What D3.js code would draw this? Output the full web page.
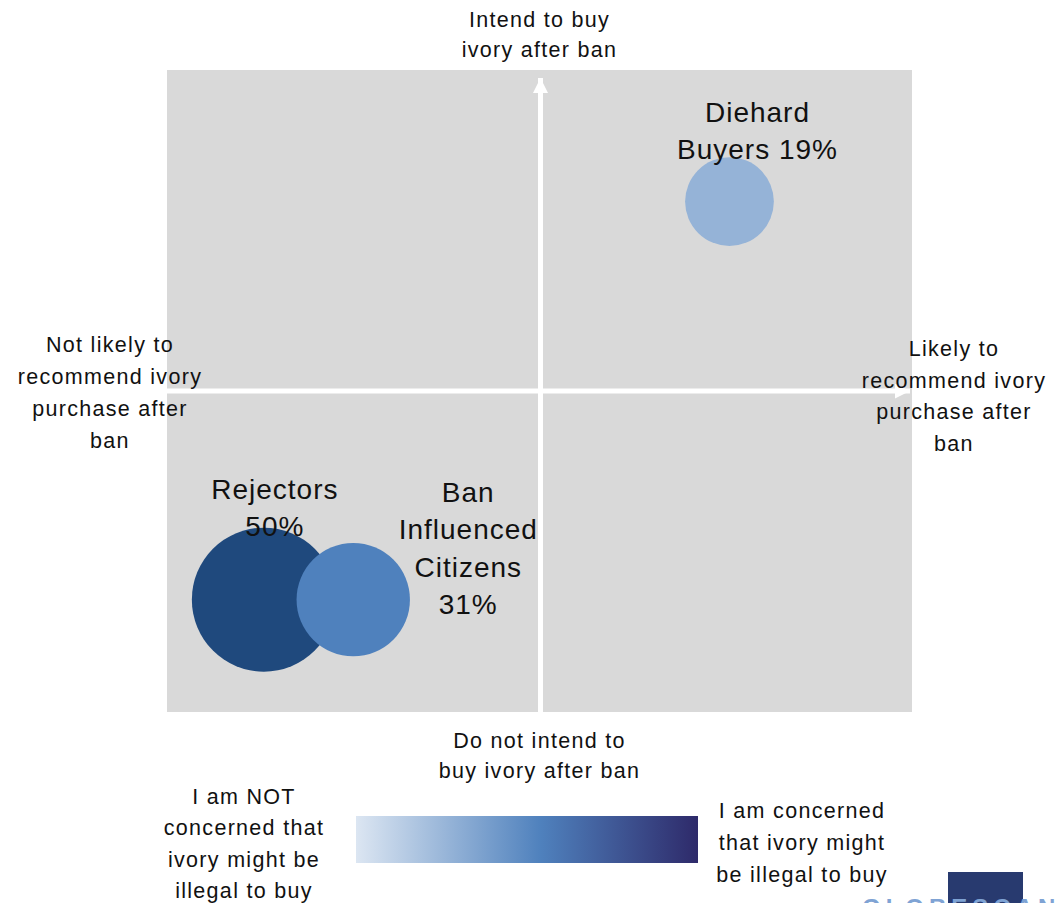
<!DOCTYPE html>
<html>
<head>
<meta charset="utf-8">
<script src="https://cdn.jsdelivr.net/npm/d3@7"></script>
<style>
  html, body { margin: 0; padding: 0; background: #fff; }
  svg { display: block; }
  text { font-family: "Liberation Sans", Arial, sans-serif; fill: #111; }
</style>
</head>
<body>
<svg id="chart" width="1055" height="903"></svg>
<script>
// ---- data ----
const segments = ["Diehard Buyers", "Rejectors", "Ban Influenced Citizens"];
const shares = [19, 50, 31];                 // % of respondents (bubble size)
const recommendScore = [0.51, -0.74, -0.50]; // x: likelihood to recommend ivory purchase after ban
const intendScore = [0.59, -0.65, -0.65];    // y: intention to buy ivory after ban
const segmentLabels = [["Diehard", "Buyers 19%"], ["Rejectors", "50%"], ["Ban", "Influenced", "Citizens", "31%"]];
const axisTop = ["Intend to buy", "ivory after ban"];
const axisBottom = ["Do not intend to", "buy ivory after ban"];
const axisLeft = ["Not likely to", "recommend ivory", "purchase after", "ban"];
const axisRight = ["Likely to", "recommend ivory", "purchase after", "ban"];
const legendLow = ["I am NOT", "concerned that", "ivory might be", "illegal to buy"];
const legendHigh = ["I am concerned", "that ivory might", "be illegal to buy"];

// ---- setup ----
const svg = d3.select("#chart");
const plot = { left: 167, right: 912, top: 70, bottom: 712 };
const x = d3.scaleLinear().domain([-1, 1]).range([plot.left, plot.right]);
const y = d3.scaleLinear().domain([-1, 1]).range([plot.bottom, plot.top]);
const r = d3.scaleSqrt().domain([0, 50]).range([0, 72]);
const color = d3.scaleOrdinal().domain(segments).range(["#95b3d7", "#1f497d", "#4f81bd"]);

// background
svg.append("rect")
  .attr("x", x(-1)).attr("y", y(1))
  .attr("width", x(1) - x(-1)).attr("height", y(-1) - y(1))
  .attr("fill", "#d9d9d9");

// axes (white arrows)
const defs = svg.append("defs");
defs.append("marker")
  .attr("id", "arrow").attr("viewBox", "0 0 10 10")
  .attr("refX", 10).attr("refY", 5)
  .attr("markerWidth", 3).attr("markerHeight", 3)
  .attr("markerUnits", "strokeWidth")
  .attr("orient", "auto")
  .append("path").attr("d", "M0,0 L10,5 L0,10 Z").attr("fill", "#fff");

svg.append("line")
  .attr("x1", x(-1)).attr("x2", x(1) - 2)
  .attr("y1", y(0)).attr("y2", y(0))
  .attr("stroke", "#fff").attr("stroke-width", 5)
  .attr("marker-end", "url(#arrow)");
svg.append("line")
  .attr("x1", x(0) + 1).attr("x2", x(0) + 1)
  .attr("y1", y(-1)).attr("y2", y(1) + 8)
  .attr("stroke", "#fff").attr("stroke-width", 5)
  .attr("marker-end", "url(#arrow)");

// bubbles: draw largest first
const data = segments.map((s, i) => ({ s, share: shares[i], xv: recommendScore[i], yv: intendScore[i], lab: segmentLabels[i] }));
const order = data.slice().sort((a, b) => b.share - a.share);
svg.append("g").selectAll("circle").data(order).join("circle")
  .attr("cx", d => x(d.xv)).attr("cy", d => y(d.yv))
  .attr("r", d => r(d.share))
  .attr("fill", d => color(d.s));

// multi-line text helper
function block(lines, cx, firstBaseline, lineH, size, spacing) {
  const t = svg.append("text")
    .attr("text-anchor", "middle")
    .style("font-size", size + "px")
    .style("letter-spacing", spacing + "px");
  lines.forEach((l, i) => {
    t.append("tspan").attr("x", cx).attr("y", firstBaseline + i * lineH).text(l);
  });
  return t;
}

// segment labels, positioned relative to bubble
const labelOffsets = {
  "Diehard Buyers": { dx: 28, dy: -80 },
  "Rejectors": { dx: 11, dy: -101 },
  "Ban Influenced Citizens": { dx: 115, dy: -98 }
};
data.forEach(d => {
  const o = labelOffsets[d.s];
  block(d.lab, x(d.xv) + o.dx, y(d.yv) + o.dy, 37.5, 28, 1);
});

// axis end labels
const sm = 21.5, ls = 1.3;
block(axisTop, x(0), 27, 30, sm, ls);
block(axisBottom, x(0), 748, 30, sm, ls);
block(axisLeft, 110, 352, 32, sm, ls);
block(axisRight, 954, 356, 31.5, sm, ls);

// legend gradient
const grad = defs.append("linearGradient").attr("id", "concern").attr("x1", "0%").attr("x2", "100%");
grad.append("stop").attr("offset", "0%").attr("stop-color", "#dce6f2");
grad.append("stop").attr("offset", "54%").attr("stop-color", "#4f81bd");
grad.append("stop").attr("offset", "100%").attr("stop-color", "#2e2a6a");
svg.append("rect")
  .attr("x", 356).attr("y", 816).attr("width", 342).attr("height", 47)
  .attr("fill", "url(#concern)");

block(legendLow, 244, 804, 31.3, sm, ls);
block(legendHigh, 802, 818, 32, sm, ls);

// logo fragment
svg.append("rect").attr("x", 948).attr("y", 872).attr("width", 75).attr("height", 40).attr("fill", "#283a6f");
svg.append("text")
  .attr("x", 862).attr("y", 916)
  .style("font-size", "24px").style("font-weight", "bold")
  .style("letter-spacing", "5px").style("fill", "#7fa3d4")
  .text("GLOBESCAN");
</script>
</body>
</html>
